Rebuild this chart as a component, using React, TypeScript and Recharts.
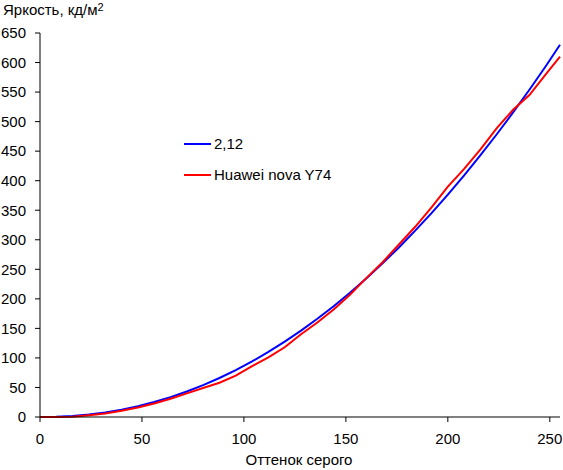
import { LineChart, Line, XAxis, YAxis } from 'recharts';

// gray level steps (0..255)
const grayLevels = [
  0, 8, 16, 24, 32, 40, 48, 56, 64, 72, 80, 88, 96, 104, 112, 120, 128, 136,
  144, 152, 160, 168, 176, 184, 192, 200, 208, 216, 224, 232, 240, 248, 255,
];
// reference curve, gamma 2.12
const gammaRef = [
  0, 0.4, 1.8, 4.2, 7.7, 12.4, 18.3, 25.3, 33.6, 43.2, 54, 66, 79.5, 94.1,
  110.1, 127.5, 146.2, 166.2, 187.6, 210.4, 234.6, 260.1, 287, 315.4, 345.2,
  376.4, 409.1, 443.2, 478.6, 515.6, 554, 593.8, 630,
];
// measured, Huawei nova Y74
const measured = [
  0, 0, 0.6, 3, 6, 10.5, 16, 23, 31, 40, 49, 58, 70, 86, 101, 118, 140, 160,
  182, 207, 235, 262, 292, 322, 355, 390, 420, 453, 489, 520, 545, 580, 610,
];
const xTicks = [0, 50, 100, 150, 200, 250];
const yTicks = [0, 50, 100, 150, 200, 250, 300, 350, 400, 450, 500, 550, 600, 650];

const seriesNames = ['2,12', 'Huawei nova Y74'];
const seriesColors = ['#0000ff', '#ff0000'];

const data = grayLevels.map((g, i) => ({ gray: g, ref: gammaRef[i], meas: measured[i] }));

const font = '"Liberation Sans", Arial, sans-serif';

// legend drawn as plain html so it does not take space from the plot
const LegendBox = () => (
  <div style={{ position: 'absolute', left: 184, top: 128, fontFamily: font, fontSize: 15, color: '#000' }}>
    {seriesNames.map((name, i) => (
      <div key={name} style={{ display: 'flex', alignItems: 'center', height: 31 }}>
        <span style={{ display: 'inline-block', width: 27, height: 2, background: seriesColors[i], marginRight: 3 }} />
        <span>{name}</span>
      </div>
    ))}
  </div>
);

export default function App() {
  return (
    <div style={{ position: 'absolute', left: 0, top: 0, width: 563, height: 470, background: '#fff' }}>
      <div style={{ position: 'absolute', left: 3, top: 0, fontFamily: font, fontSize: 15, lineHeight: '20px' }}>
        Яркость, кд/м<sup style={{ fontSize: 11, verticalAlign: 'top', lineHeight: '14px' }}>2</sup>
      </div>
      <LineChart
        width={563}
        height={470}
        data={data}
        margin={{ top: 33, right: 3, left: 0, bottom: 23 }}
      >
        <XAxis
          dataKey="gray"
          type="number"
          domain={[0, 255]}
          ticks={xTicks}
          height={30}
          tickSize={5}
          tickMargin={11}
          stroke="#000"
          tick={{ fill: '#000', fontSize: 15, fontFamily: font }}
        />
        <YAxis
          type="number"
          domain={[0, 650]}
          ticks={yTicks}
          width={40}
          tickSize={5}
          tickMargin={9}
          stroke="#000"
          interval={0}
          tick={{ fill: '#000', fontSize: 15, fontFamily: font }}
        />
        <Line
          dataKey="ref"
          name={seriesNames[0]}
          stroke={seriesColors[0]}
          strokeWidth={2}
          dot={false}
          type="linear"
          isAnimationActive={false}
        />
        <Line
          dataKey="meas"
          name={seriesNames[1]}
          stroke={seriesColors[1]}
          strokeWidth={2}
          dot={false}
          type="linear"
          isAnimationActive={false}
        />
      </LineChart>
      <LegendBox />
      <div
        style={{
          position: 'absolute',
          left: 0,
          width: 563,
          paddingLeft: 35,
          boxSizing: 'border-box',
          top: 450,
          textAlign: 'center',
          fontFamily: font,
          fontSize: 15,
          lineHeight: '20px',
        }}
      >
        Оттенок серого
      </div>
    </div>
  );
}
